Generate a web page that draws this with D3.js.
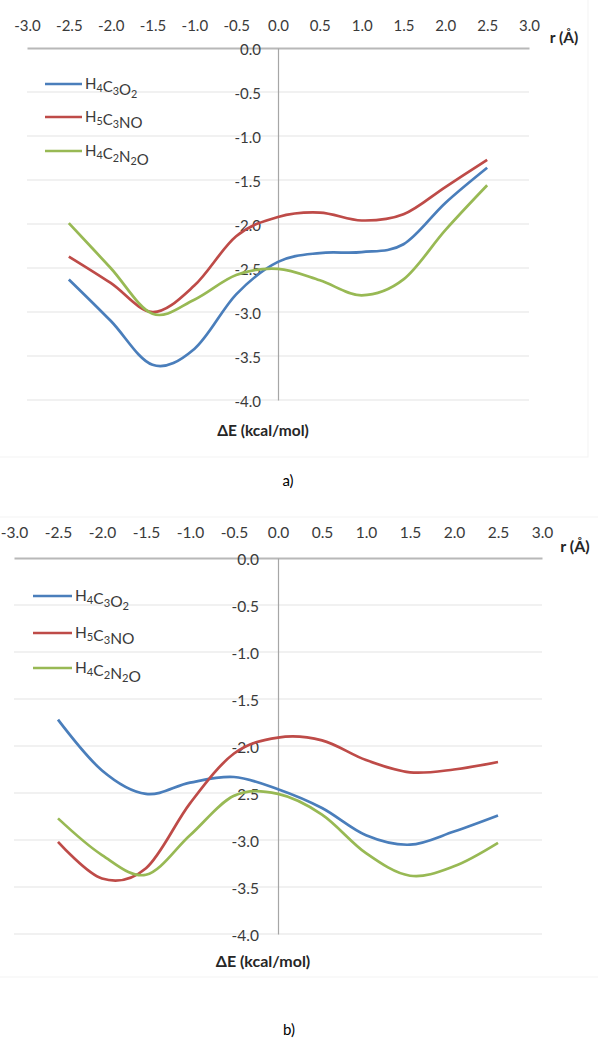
<!DOCTYPE html>
<html>
<head>
<meta charset="utf-8">
<script src="https://cdn.jsdelivr.net/npm/d3@7"></script>
<style>
  body { margin: 0; background: #fff; }
  svg { display: block; font-family: Lato, "Open Sans", sans-serif; }
</style>
</head>
<body>
<div class="chart"></div>
<script>
// ======================================
// Data
// ======================================
var rValues = [-2.5, -2.0, -1.5, -1.0, -0.5, 0.0, 0.5, 1.0, 1.5, 2.0, 2.5];
var xTicks = [-3.0, -2.5, -2.0, -1.5, -1.0, -0.5, 0.0, 0.5, 1.0, 1.5, 2.0, 2.5, 3.0];
var yTicks = [0.0, -0.5, -1.0, -1.5, -2.0, -2.5, -3.0, -3.5, -4.0];
var seriesNames = ['H4C3O2', 'H5C3NO', 'H4C2N2O'];
var seriesColors = ['#4a7ebb', '#be4b48', '#98b954'];

// panel a)
var a_H4C3O2  = [-2.63, -3.10, -3.60, -3.42, -2.80, -2.43, -2.33, -2.32, -2.23, -1.76, -1.36];
var a_H5C3NO  = [-2.37, -2.67, -3.00, -2.70, -2.14, -1.92, -1.87, -1.96, -1.89, -1.58, -1.27];
var a_H4C2N2O = [-1.99, -2.50, -3.02, -2.86, -2.58, -2.51, -2.64, -2.81, -2.63, -2.07, -1.56];

// panel b)
var b_H4C3O2  = [-1.72, -2.26, -2.51, -2.39, -2.33, -2.46, -2.66, -2.95, -3.05, -2.91, -2.74];
var b_H5C3NO  = [-3.02, -3.41, -3.30, -2.61, -2.08, -1.91, -1.94, -2.15, -2.28, -2.25, -2.17];
var b_H4C2N2O = [-2.77, -3.16, -3.37, -2.95, -2.53, -2.51, -2.73, -3.14, -3.38, -3.28, -3.03];

// ======================================
// Svg palette
// ======================================
var svg = d3.select('.chart')
   .append('svg')
   .attr('width', 598)
   .attr('height', 1042)
   ;

var fmt = function(d){ return d.toFixed(1); };

// ======================================
// one panel = one Excel-like chart
// ======================================
function drawPanel(p){
   var g = svg.append('g');

   // faint chart border
   g.append('rect')
      .attr('x', p.box[0]).attr('y', p.box[1])
      .attr('width', p.box[2]).attr('height', p.box[3])
      .attr('fill', 'none')
      .attr('stroke', '#f3f3f3')
      ;

   var x = d3.scaleLinear().domain([-3, 3]).range(p.xRange);
   var y = d3.scaleLinear().domain([0, -4]).range(p.yRange);

   // gridlines
   g.selectAll('.grid')
      .data(yTicks.filter(function(d){ return d !== 0; }))
      .enter()
      .append('line')
         .attr('x1', p.xRange[0]).attr('x2', p.xRange[1])
         .attr('y1', function(d){ return y(d); })
         .attr('y2', function(d){ return y(d); })
         .attr('stroke', '#ececec')
         .attr('stroke-width', 1.3)
      ;

   // x axis sits along y = 0, labels on top
   var xAxis = g.append('g')
      .attr('transform', 'translate(0,' + y(0) + ')')
      .call(d3.axisTop(x).tickValues(xTicks).tickFormat(fmt)
         .tickSize(0).tickSizeOuter(0).tickPadding(p.xPad))
      ;
   xAxis.select('.domain').attr('stroke', '#b8b8b8').attr('stroke-width', 1.8);

   // y axis sits along x = 0, labels on its left
   var yAxis = g.append('g')
      .attr('transform', 'translate(' + x(0) + ',0)')
      .call(d3.axisLeft(y).tickValues(yTicks).tickFormat(fmt)
         .tickSize(0).tickSizeOuter(0).tickPadding(p.yPad))
      ;
   yAxis.select('.domain').attr('stroke', '#a6a6a6').attr('stroke-width', 1.2);
   yAxis.selectAll('text').attr('dy', '0.45em');

   g.selectAll('.tick text')
      .attr('font-family', 'Lato, sans-serif')
      .attr('font-size', p.fs)
      .attr('fill', '#3a3a3a')
      ;

   // curves
   var line = d3.line()
      .x(function(d, i){ return x(rValues[i]); })
      .y(function(d){ return y(d); })
      .curve(d3.curveCatmullRom.alpha(0))
      ;

   p.series.forEach(function(s, k){
      g.append('path')
         .datum(s)
         .attr('d', line)
         .attr('fill', 'none')
         .attr('stroke', seriesColors[k])
         .attr('stroke-width', 2.7)
         ;
   });

   // legend
   seriesNames.forEach(function(name, k){
      var ly = p.legY[k];
      g.append('line')
         .attr('x1', p.legX[0]).attr('x2', p.legX[1])
         .attr('y1', ly).attr('y2', ly)
         .attr('stroke', seriesColors[k])
         .attr('stroke-width', 2.7)
         ;
      var t = g.append('text')
         .attr('x', p.legX[1] + 3)
         .attr('y', ly + 5)
         .attr('font-size', p.fs)
         .attr('fill', '#3a3a3a')
         ;
      // digits as subscripts
      name.match(/[A-Z][a-z]?|\d+/g).forEach(function(part){
         if(/\d/.test(part)){
            t.append('tspan').attr('font-size', p.fs * 0.72).attr('dy', 3).text(part);
            t.append('tspan').attr('dy', -3).text('');
         } else {
            t.append('tspan').text(part);
         }
      });
   });

   // axis titles and caption
   g.append('text')
      .attr('x', p.rPos[0]).attr('y', p.rPos[1])
      .attr('text-anchor', 'middle')
      .attr('font-weight', 'bold')
      .attr('font-size', p.fs + 0.5)
      .attr('fill', '#262626')
      .text('r (Å)')
      ;
   g.append('text')
      .attr('x', p.ePos[0]).attr('y', p.ePos[1])
      .attr('text-anchor', 'middle')
      .attr('font-weight', 'bold')
      .attr('font-size', p.fs + 0.5)
      .attr('fill', '#262626')
      .text('ΔE (kcal/mol)')
      ;
   g.append('text')
      .attr('x', p.cap[0]).attr('y', p.cap[1])
      .attr('text-anchor', 'middle')
      .attr('font-size', 15)
      .attr('fill', '#000')
      .text(p.label)
      ;
}

drawPanel({
   box: [-1, -1, 589, 458],
   xRange: [27, 529],
   yRange: [48, 400],
   xPad: 17, yPad: 17, fs: 15,
   series: [a_H4C3O2, a_H5C3NO, a_H4C2N2O],
   legX: [45, 82], legY: [84, 117, 151],
   rPos: [564, 43], ePos: [263, 436], cap: [288, 486],
   label: 'a)'
});

drawPanel({
   box: [-1, 517, 600, 460],
   xRange: [14, 542],
   yRange: [558, 934],
   xPad: 20, yPad: 19, fs: 15.5,
   series: [b_H4C3O2, b_H5C3NO, b_H4C2N2O],
   legX: [33, 72], legY: [596, 633, 668],
   rPos: [575, 552], ePos: [263, 967], cap: [289, 1035],
   label: 'b)'
});
</script>
</body>
</html>
